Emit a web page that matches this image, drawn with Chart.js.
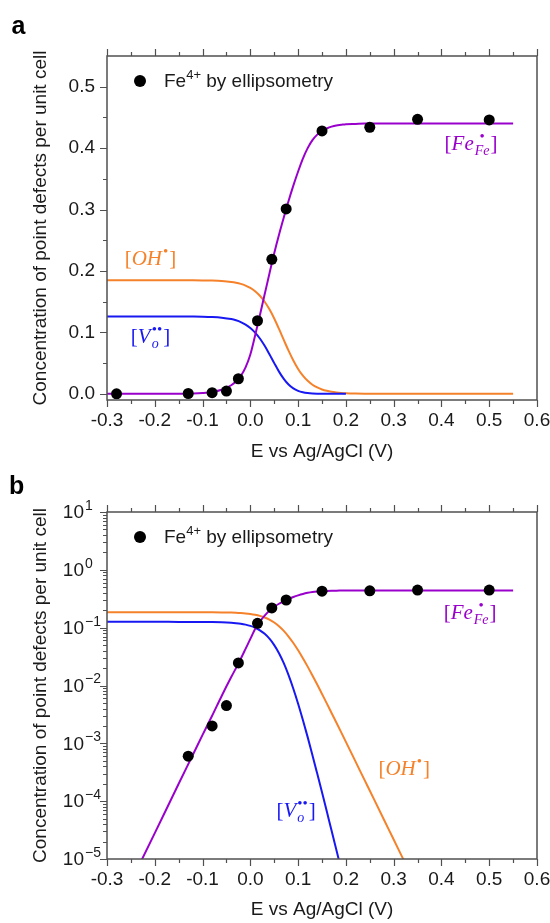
<!DOCTYPE html>
<html><head><meta charset="utf-8">
<script src="https://cdn.jsdelivr.net/npm/chart.js@4.4.1/dist/chart.umd.min.js"></script>
<style>
html,body{margin:0;padding:0;background:#fff;}
#wrap{position:relative;width:550px;height:923px;overflow:hidden;}
canvas{position:absolute;left:0;}
#ca{top:0}
#cb{top:460px}
</style></head><body>
<div id="wrap"><canvas id="ca" width="550" height="476"></canvas><canvas id="cb" width="550" height="463"></canvas></div>
<script>
// ---------- data ----------
const potential = [-0.30,-0.25,-0.20,-0.15,-0.12,-0.10,-0.08,-0.06,-0.04,-0.03,-0.02,-0.01,0.00,0.01,0.02,0.03,0.04,0.05,0.06,0.07,0.08,0.09,0.10,0.11,0.12,0.13,0.14,0.15,0.16,0.17,0.18,0.19,0.20,0.22,0.24,0.26,0.28,0.30,0.32,0.35,0.40,0.45,0.50,0.55];
const feFit = [5.8e-7,4.0e-6,2.8e-5,2.0e-4,6.4e-4,1.4e-3,3.0e-3,6.6e-3,0.0140,0.0200,0.0290,0.0430,0.0640,0.0950,0.1280,0.1620,0.1960,0.2290,0.2590,0.2870,0.3140,0.3390,0.3620,0.3830,0.4000,0.4130,0.4220,0.4280,0.4320,0.4350,0.4370,0.4380,0.4390,0.4395,0.4400,0.4400,0.4400,0.4400,0.4400,0.4400,0.4400,0.4400,0.4400,0.4400];
const voFit = [0.1260,0.1260,0.1260,0.1259,0.1258,0.1256,0.1251,0.1240,0.1217,0.1197,0.1169,0.1128,0.1073,0.0998,0.0901,0.0782,0.0645,0.0500,0.0362,0.0243,0.0151,0.0088,0.00484,0.00253,0.00128,6.25e-4,3.0e-4,1.43e-4,6.7e-5,3.1e-5,1.45e-5,6.7e-6,3.1e-6,null,null,null,null,null,null,null,null,null,null,null];
const ohFit = [0.1850,0.1850,0.1850,0.1850,0.1849,0.1847,0.1844,0.1837,0.1822,0.1809,0.1790,0.1763,0.1725,0.1671,0.1597,0.1500,0.1376,0.1227,0.1057,0.0878,0.0703,0.0543,0.0406,0.0296,0.0212,0.0149,0.0104,0.00715,0.00491,0.00335,0.00229,0.00156,0.00106,4.87e-4,2.24e-4,1.03e-4,4.73e-5,2.17e-5,9.97e-6,3.09e-6,4.4e-7,6.3e-8,9.0e-9,1.3e-9];
const measE = [-0.28,-0.13,-0.08,-0.05,-0.025,0.015,0.045,0.075,0.15,0.25,0.35,0.50];
const measFe = [1e-7,6.0e-4,2.0e-3,4.5e-3,0.0246,0.119,0.219,0.301,0.428,0.434,0.447,0.446];

const xTicks = [-0.3,-0.2,-0.1,0,0.1,0.2,0.3,0.4,0.5,0.6];
const yTicksLin = [0,0.1,0.2,0.3,0.4,0.5];
const yTicksLog = [1e-5,1e-4,1e-3,1e-2,1e-1,1,10];
const panelLetters = ['a','b'];
const xTitle = 'E vs Ag/AgCl (V)';
const yTitle = 'Concentration of point defects per unit cell';
const legendParts = ['Fe','4+',' by ellipsometry'];
const seriesLabels = [
  {main:'Fe', sup:'\u2022', sub:'Fe'},
  {main:'OH', sup:'\u2022', sub:''},
  {main:'V', sup:'\u2022\u2022', sub:'o'}
];

// ---------- styling ----------
const PURPLE = '#9A00CC', ORANGE = '#F5822A', BLUE = '#1818F2';
const AXIS = '#505050', TEXT = '#1a1a1a';
const FONT = '"Liberation Sans", Arial, sans-serif';
const SERIF = '"Liberation Serif", "Times New Roman", serif';
const MAJ = 7, MIN = 4;

function pts(ys) {
  return potential.map((x, i) => ({x, y: ys[i]})).filter(p => p.y !== null);
}
const meas = measE.map((x, i) => ({x, y: measFe[i]}));

function drawLabel(ctx, cx, cy, lab, color) {
  const fMain = 'italic 21px ' + SERIF, fUp = '21px ' + SERIF;
  const fSub = 'italic 14px ' + SERIF, fSup = '15px ' + SERIF;
  ctx.save();
  ctx.fillStyle = color; ctx.textBaseline = 'alphabetic'; ctx.textAlign = 'left';
  ctx.font = fUp; const wb = ctx.measureText('[').width;
  ctx.font = fMain; const wm = ctx.measureText(lab.main).width;
  ctx.font = fSup; const wsp = ctx.measureText(lab.sup).width;
  ctx.font = fSub; const wsb = lab.sub ? ctx.measureText(lab.sub).width : 0;
  const ws = Math.max(wsp, wsb);
  const total = wb + wm + 1 + ws + 1 + wb;
  let x = cx - total / 2; const base = cy + 6;
  ctx.font = fUp; ctx.fillText('[', x, base); x += wb;
  ctx.font = fMain; ctx.fillText(lab.main, x, base); x += wm + 1;
  ctx.font = fSup; ctx.fillText(lab.sup, x + (lab.sub ? (ws - wsp) / 2 : 0), base - 9);
  if (lab.sub) { ctx.font = fSub; ctx.fillText(lab.sub, x, base + 5); }
  x += ws + 1;
  ctx.font = fUp; ctx.fillText(']', x, base);
  ctx.restore();
}

function makeDecor(opt) {
  return {
    id: 'decor',
    afterDatasetsDraw(chart) {
      const {ctx, chartArea: ca} = chart;
      const xs = chart.scales.x, ys = chart.scales.y;
      ctx.save();
      ctx.strokeStyle = AXIS;
      ctx.lineWidth = 1.2;
      ctx.beginPath();
      xTicks.forEach((v, i) => {
        const list = [[v, MAJ]];
        if (i < xTicks.length - 1) list.push([(v + xTicks[i + 1]) / 2, MIN]);
        list.forEach(([tv, len]) => {
          const px = Math.round(xs.getPixelForValue(tv)) + 0.5;
          ctx.moveTo(px, ca.bottom); ctx.lineTo(px, ca.bottom + len);
          ctx.moveTo(px, ca.top); ctx.lineTo(px, ca.top - len);
        });
      });
      opt.yTickMarks().forEach(([tv, len]) => {
        const py = Math.round(ys.getPixelForValue(tv)) + 0.5;
        ctx.moveTo(ca.left, py); ctx.lineTo(ca.left - len, py);
      });
      ctx.stroke();
      ctx.lineWidth = 1.5;
      ctx.strokeRect(ca.left, ca.top, ca.right - ca.left, ca.bottom - ca.top);
      ctx.restore();
    },
    afterDraw(chart) {
      const {ctx, chartArea: ca} = chart;
      const xs = chart.scales.x, ys = chart.scales.y;
      ctx.save();
      // panel letter
      ctx.fillStyle = '#000'; ctx.font = 'bold 25px ' + FONT;
      ctx.textBaseline = 'alphabetic'; ctx.textAlign = 'left';
      ctx.fillText(opt.letter, opt.letterX, opt.letterY);
      // legend
      const lx = ca.left + 33, ly = ca.top + 25;
      ctx.beginPath(); ctx.arc(lx, ly, 6, 0, Math.PI * 2); ctx.fill();
      ctx.fillStyle = TEXT; ctx.textBaseline = 'middle';
      let tx = ca.left + 57;
      ctx.font = '19px ' + FONT; ctx.fillText(legendParts[0], tx, ly + 1); tx += ctx.measureText(legendParts[0]).width;
      ctx.font = '13px ' + FONT; ctx.fillText(legendParts[1], tx, ly - 6); tx += ctx.measureText(legendParts[1]).width;
      ctx.font = '19px ' + FONT; ctx.fillText(legendParts[2], tx, ly + 1);
      // log tick labels
      if (opt.log) {
        yTicksLog.forEach(v => {
          const py = ys.getPixelForValue(v);
          const e = Math.round(Math.log10(v));
          const bx = ca.left - 23;
          ctx.font = '19px ' + FONT; ctx.textAlign = 'right'; ctx.textBaseline = 'middle';
          ctx.fillText('10', bx, py + 1);
          ctx.font = '14px ' + FONT; ctx.textAlign = 'left';
          ctx.fillText(String(e).replace('-', '\u2212'), bx + 1, py - 6);
        });
      }
      ctx.restore();
      // series labels
      const cols = [PURPLE, ORANGE, BLUE];
      seriesLabels.forEach((lab, i) => {
        const [vx, vy] = opt.labelPos[i];
        drawLabel(ctx, xs.getPixelForValue(vx), ys.getPixelForValue(vy), lab, cols[i]);
      });
    }
  };
}

function makeChart(canvasId, opt) {
  const isLog = opt.log;
  const lineDs = (label, data, color) => ({
    label, data, showLine: true, borderColor: color, backgroundColor: color,
    borderWidth: 2, pointRadius: 0, fill: false, cubicInterpolationMode: 'monotone'
  });
  return new Chart(document.getElementById(canvasId), {
    type: 'scatter',
    data: {
      datasets: [
        {label: 'Fe4+ by ellipsometry', data: meas, pointRadius: 5.5, pointBackgroundColor: '#000',
         pointBorderWidth: 0, backgroundColor: '#000', borderColor: '#000', showLine: false},
        lineDs('[FeFe]', pts(feFit), PURPLE),
        lineDs('[Vo]', pts(voFit), BLUE),
        lineDs('[OH]', pts(ohFit), ORANGE)
      ]
    },
    options: {
      responsive: false, animation: false, devicePixelRatio: 1, events: [],
      layout: {padding: {top: opt.padTop, right: 13, left: 0, bottom: 0}},
      elements: {line: {capBezierPoints: false}},
      plugins: {legend: {display: false}, tooltip: {enabled: false}},
      scales: {
        x: {
          type: 'linear', position: 'bottom', min: -0.3, max: 0.6,
          afterBuildTicks: s => { s.ticks = xTicks.map(v => ({value: v})); },
          afterFit: s => { s.height = opt.xHeight; s.paddingLeft = 0; s.paddingRight = 0; },
          grid: {display: false, drawTicks: false}, border: {display: false},
          ticks: {autoSkip: false, maxRotation: 0, padding: 9, color: TEXT,
                  font: {family: FONT, size: 19}, callback: v => Number(v).toFixed(1)},
          title: {display: true, text: xTitle, color: TEXT, font: {family: FONT, size: 19, lineHeight: 1},
                  padding: {top: 0, bottom: opt.xTitlePad}}
        },
        y: isLog ? {
          type: 'logarithmic', min: 1e-5, max: 10,
          afterBuildTicks: s => { s.ticks = yTicksLog.map(v => ({value: v})); },
          afterFit: s => { s.width = 107; s.paddingTop = 0; s.paddingBottom = 0; },
          grid: {display: false, drawTicks: false}, border: {display: false},
          ticks: {display: false},
          title: {display: true, text: yTitle, color: TEXT, font: {family: FONT, size: 19, lineHeight: 1},
                  padding: {top: 31, bottom: 0}}
        } : {
          type: 'linear', min: -0.01, max: 0.55,
          afterBuildTicks: s => { s.ticks = yTicksLin.map(v => ({value: v})); },
          afterFit: s => { s.width = 107; s.paddingTop = 0; s.paddingBottom = 0; },
          grid: {display: false, drawTicks: false}, border: {display: false},
          ticks: {padding: 12, color: TEXT, font: {family: FONT, size: 19}, callback: v => Number(v).toFixed(1)},
          title: {display: true, text: yTitle, color: TEXT, font: {family: FONT, size: 19, lineHeight: 1},
                  padding: {top: 31, bottom: 0}}
        }
      }
    },
    plugins: [makeDecor(opt)]
  });
}

makeChart('ca', {
  log: false, padTop: 56, xHeight: 76, xTitlePad: 14.5,
  letter: panelLetters[0], letterX: 11.5, letterY: 33.5,
  labelPos: [[0.462, 0.4075], [-0.209, 0.219], [-0.209, 0.0925]],
  yTickMarks: () => {
    const out = [];
    yTicksLin.forEach((v, i) => { out.push([v, MAJ]); if (i < yTicksLin.length - 1) out.push([(v + yTicksLin[i + 1]) / 2, MIN]); });
    return out;
  }
});
makeChart('cb', {
  log: true, padTop: 52, xHeight: 64, xTitlePad: 3.5,
  letter: panelLetters[1], letterX: 9, letterY: 34,
  labelPos: [[0.460, 0.179], [0.322, 3.58e-4], [0.096, 6.7e-5]],
  yTickMarks: () => {
    const out = [];
    yTicksLog.forEach((v, i) => {
      out.push([v, MAJ]);
      if (i < yTicksLog.length - 1) for (let k = 2; k <= 9; k++) out.push([v * k, MIN]);
    });
    return out;
  }
});
</script>
</body></html>
